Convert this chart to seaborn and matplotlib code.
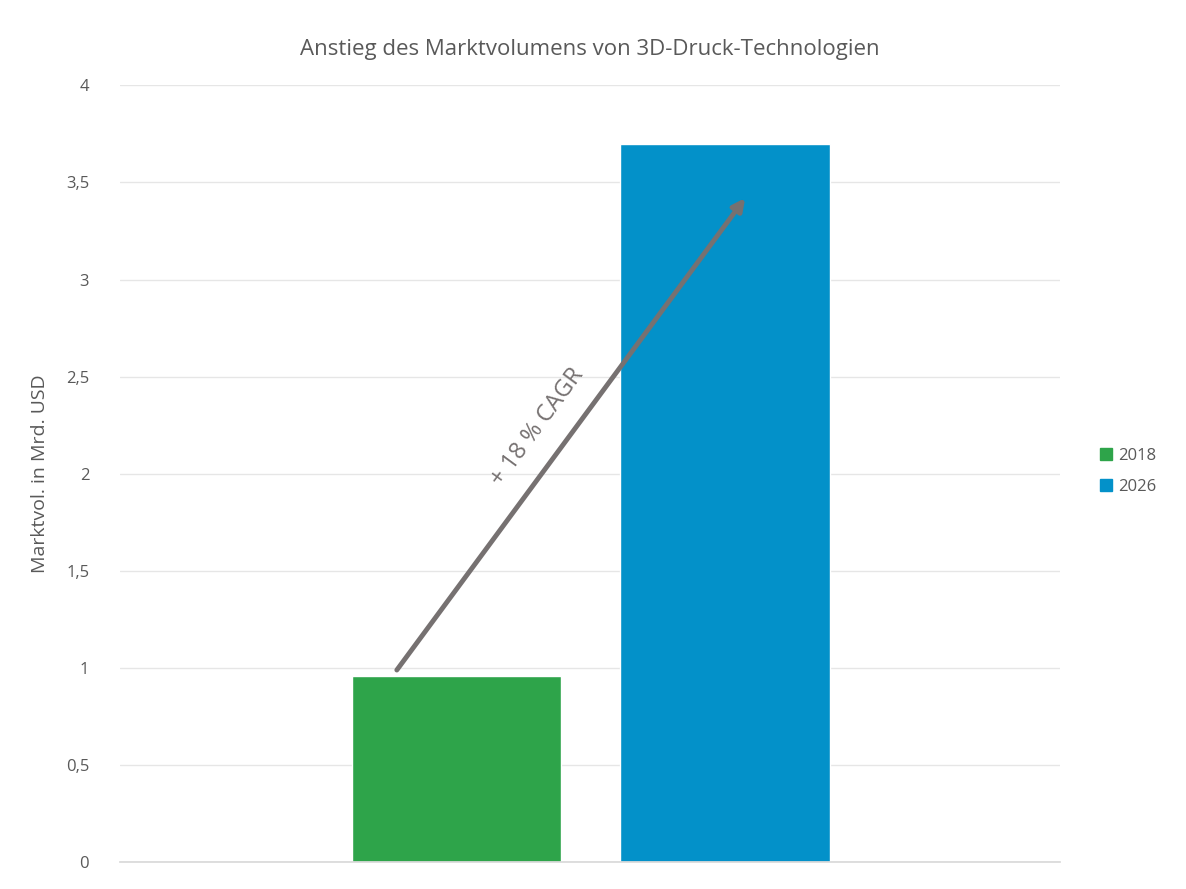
import matplotlib
matplotlib.use("Agg")
import matplotlib.pyplot as plt
import seaborn as sns
import pandas as pd

years = ["2018", "2026"]
volumes = [0.96, 3.70]
colors = ["#2ea44a", "#0391c9"]
yticks = [0, 0.5, 1, 1.5, 2, 2.5, 3, 3.5, 4]

df = pd.DataFrame({"year": years, "vol": volumes})

sns.set_theme(style="white")
plt.rcParams['font.family'] = ['Open Sans', 'DejaVu Sans']
txt = "#595959"

fig = plt.figure(figsize=(11.86, 8.89), dpi=100)
ax = fig.add_axes([0.101, 0.030, 0.793, 0.874])

sns.barplot(data=df, x="year", y="vol", hue="year", palette=colors,
            width=0.78, saturation=1, ax=ax, legend=False)

ax.set_xlim(-1.257, 2.25)
ax.set_ylim(0, 4)
ax.set_yticks(yticks)
ax.set_yticklabels([f"{t:g}".replace(".", ",") for t in yticks], color=txt, fontsize=12)
ax.tick_params(axis="y", length=0, pad=22)
ax.set_xticks([])
ax.set_xlabel("")
ax.set_ylabel("Marktvol. in Mrd. USD", color=txt, fontsize=14, labelpad=12)
ax.grid(axis="y", color="#e6e6e6", linewidth=1)
ax.set_axisbelow(True)
for s in ["top", "right", "left"]:
    ax.spines[s].set_visible(False)
ax.spines["bottom"].set_color("#d9d9d9")

ax.set_title("Anstieg des Marktvolumens von 3D-Druck-Technologien",
             color=txt, fontsize=16, pad=22)

ax.annotate("", xy=(1.075, 3.42), xytext=(-0.224, 0.99),
            arrowprops=dict(arrowstyle="-|>", color="#767171", lw=3.5,
                            mutation_scale=18, shrinkA=0, shrinkB=0))
ax.text(0.30, 2.24, "+ 18 % CAGR", rotation=53.6, rotation_mode="anchor",
        ha="center", va="center", fontsize=17, color="#767171")

handles = [plt.Rectangle((0, 0), 1, 1, color=c) for c in colors]
fig.legend(handles, years, loc="center left", bbox_to_anchor=(0.915, 0.47),
           frameon=False, fontsize=12, handlelength=0.7, handleheight=0.7,
           labelcolor=txt, labelspacing=0.9, handletextpad=0.4)

fig.savefig("out.png", dpi=100)
